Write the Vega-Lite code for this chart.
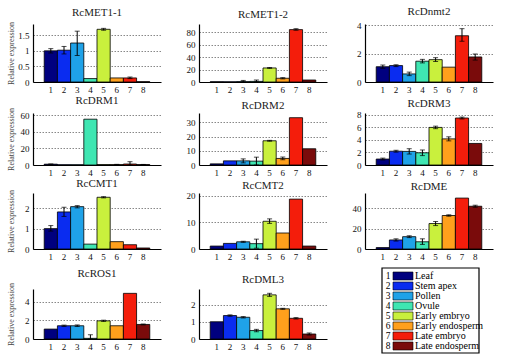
{
"$schema": "https://vega.github.io/schema/vega-lite/v6.json",
"padding": {"left": 6, "top": 6, "right": 2, "bottom": 2},
"background": "white",
"data": {"values": [
{"g":"RcMET1-1","t":1,"v":1.0,"lo":0.93,"hi":1.07},
{"g":"RcMET1-1","t":2,"v":1.02,"lo":0.9,"hi":1.14},
{"g":"RcMET1-1","t":3,"v":1.25,"lo":0.85,"hi":1.63},
{"g":"RcMET1-1","t":4,"v":0.11},
{"g":"RcMET1-1","t":5,"v":1.69,"lo":1.66,"hi":1.72},
{"g":"RcMET1-1","t":6,"v":0.13},
{"g":"RcMET1-1","t":7,"v":0.13,"lo":0.11,"hi":0.16},
{"g":"RcMET1-1","t":8,"v":0.01},
{"g":"RcMET1-2","t":1,"v":0.4},
{"g":"RcMET1-2","t":2,"v":0.3},
{"g":"RcMET1-2","t":3,"v":0.6,"lo":0,"hi":2.5},
{"g":"RcMET1-2","t":4,"v":1.0,"lo":0,"hi":3.2},
{"g":"RcMET1-2","t":5,"v":22.5,"lo":21.8,"hi":23.2},
{"g":"RcMET1-2","t":6,"v":6,"lo":5,"hi":7},
{"g":"RcMET1-2","t":7,"v":84,"lo":83,"hi":85.5},
{"g":"RcMET1-2","t":8,"v":3.2},
{"g":"RcDnmt2","t":1,"v":1.08,"lo":0.97,"hi":1.2},
{"g":"RcDnmt2","t":2,"v":1.16,"lo":1.09,"hi":1.22},
{"g":"RcDnmt2","t":3,"v":0.57,"lo":0.45,"hi":0.7},
{"g":"RcDnmt2","t":4,"v":1.47,"lo":1.35,"hi":1.6},
{"g":"RcDnmt2","t":5,"v":1.58,"lo":1.45,"hi":1.72},
{"g":"RcDnmt2","t":6,"v":1.05},
{"g":"RcDnmt2","t":7,"v":3.27,"lo":2.88,"hi":3.77},
{"g":"RcDnmt2","t":8,"v":1.77,"lo":1.55,"hi":1.98},
{"g":"RcDRM1","t":1,"v":1.0,"lo":0.8,"hi":1.2},
{"g":"RcDRM1","t":2,"v":0.3},
{"g":"RcDRM1","t":3,"v":0.3},
{"g":"RcDRM1","t":4,"v":55.5},
{"g":"RcDRM1","t":5,"v":0.5},
{"g":"RcDRM1","t":6,"v":0.5,"lo":0.3,"hi":0.8},
{"g":"RcDRM1","t":7,"v":1.2,"lo":0,"hi":4},
{"g":"RcDRM1","t":8,"v":0.5,"lo":0.3,"hi":0.7},
{"g":"RcDRM2","t":1,"v":0.8},
{"g":"RcDRM2","t":2,"v":2.9},
{"g":"RcDRM2","t":3,"v":2.9,"lo":1.5,"hi":4.3},
{"g":"RcDRM2","t":4,"v":2.7,"lo":0,"hi":5.5},
{"g":"RcDRM2","t":5,"v":17,"lo":16.7,"hi":17.3},
{"g":"RcDRM2","t":6,"v":4.6,"lo":3.7,"hi":5.6},
{"g":"RcDRM2","t":7,"v":33.2},
{"g":"RcDRM2","t":8,"v":11.4},
{"g":"RcDRM3","t":1,"v":0.95,"lo":0.8,"hi":1.1},
{"g":"RcDRM3","t":2,"v":2.2,"lo":2.05,"hi":2.35},
{"g":"RcDRM3","t":3,"v":2.17,"lo":1.75,"hi":2.6},
{"g":"RcDRM3","t":4,"v":1.95,"lo":1.5,"hi":2.4},
{"g":"RcDRM3","t":5,"v":6.0,"lo":5.8,"hi":6.2},
{"g":"RcDRM3","t":6,"v":4.17,"lo":3.85,"hi":4.5},
{"g":"RcDRM3","t":7,"v":7.5,"lo":7.35,"hi":7.65},
{"g":"RcDRM3","t":8,"v":3.44},
{"g":"RcCMT1","t":1,"v":1.0,"lo":0.88,"hi":1.15},
{"g":"RcCMT1","t":2,"v":1.82,"lo":1.6,"hi":2.05},
{"g":"RcCMT1","t":3,"v":2.08,"lo":2.02,"hi":2.13},
{"g":"RcCMT1","t":4,"v":0.24},
{"g":"RcCMT1","t":5,"v":2.54,"lo":2.51,"hi":2.57},
{"g":"RcCMT1","t":6,"v":0.36},
{"g":"RcCMT1","t":7,"v":0.21},
{"g":"RcCMT1","t":8,"v":0.05},
{"g":"RcCMT2","t":1,"v":1.1},
{"g":"RcCMT2","t":2,"v":2.1},
{"g":"RcCMT2","t":3,"v":2.7,"lo":2.5,"hi":2.9},
{"g":"RcCMT2","t":4,"v":2.0,"lo":0.3,"hi":3.7},
{"g":"RcCMT2","t":5,"v":10.4,"lo":9.6,"hi":11.3},
{"g":"RcCMT2","t":6,"v":6.0},
{"g":"RcCMT2","t":7,"v":18.7},
{"g":"RcCMT2","t":8,"v":1.1},
{"g":"RcDME","t":1,"v":1.4},
{"g":"RcDME","t":2,"v":8.9,"lo":7.8,"hi":10},
{"g":"RcDME","t":3,"v":12.1,"lo":11.2,"hi":13},
{"g":"RcDME","t":4,"v":7.1,"lo":4.5,"hi":10},
{"g":"RcDME","t":5,"v":25,"lo":23,"hi":27},
{"g":"RcDME","t":6,"v":32.9,"lo":32.2,"hi":33.6},
{"g":"RcDME","t":7,"v":50},
{"g":"RcDME","t":8,"v":42,"lo":41,"hi":43},
{"g":"RcROS1","t":1,"v":1.07},
{"g":"RcROS1","t":2,"v":1.43,"lo":1.36,"hi":1.5},
{"g":"RcROS1","t":3,"v":1.43,"lo":1.35,"hi":1.52},
{"g":"RcROS1","t":4,"v":0.07,"lo":0,"hi":0.46},
{"g":"RcROS1","t":5,"v":1.96,"lo":1.9,"hi":2.03},
{"g":"RcROS1","t":6,"v":1.43},
{"g":"RcROS1","t":7,"v":4.93},
{"g":"RcROS1","t":8,"v":1.57,"lo":1.52,"hi":1.62},
{"g":"RcDML3","t":1,"v":1.0},
{"g":"RcDML3","t":2,"v":1.36,"lo":1.32,"hi":1.4},
{"g":"RcDML3","t":3,"v":1.26,"lo":1.22,"hi":1.3},
{"g":"RcDML3","t":4,"v":0.49,"lo":0.42,"hi":0.56},
{"g":"RcDML3","t":5,"v":2.56,"lo":2.47,"hi":2.65},
{"g":"RcDML3","t":6,"v":1.75,"lo":1.72,"hi":1.78},
{"g":"RcDML3","t":7,"v":1.2,"lo":1.16,"hi":1.24},
{"g":"RcDML3","t":8,"v":0.29,"lo":0.23,"hi":0.35}
]},
"columns": 3,
"align": "each",
"spacing": {"row": 0, "column": 22},
"resolve": {"scale": {"x": "independent", "y": "independent"}},
"concat": [
{"title": {"text": "RcMET1-1", "offset": 4}, "width": 128, "height": 58,
 "transform": [{"filter": "datum.g === 'RcMET1-1'"}],
 "encoding": {"x": {"field": "t", "type": "ordinal", "scale": {"paddingInner": 0, "paddingOuter": 0.85}, "axis": {"title": null}}},
 "layer": [
  {"mark": "bar", "encoding": {"y": {"field": "v", "type": "quantitative", "title": "Relative expression", "scale": {"domain": [0, 1.86], "nice": false, "zero": false}, "axis": {"values": [0, 0.5, 1, 1.5], "labelExpr": "'' + datum.value"}}, "color": {"field": "t", "type": "ordinal", "scale": {"domain": [1,2,3,4,5,6,7,8], "range": ["#00007f","#0a2cf0","#1fa2e8","#3fe6b2","#c9f03d","#ffa01c","#f41d0b","#7a0b0b"]}, "legend": null}}},
  {"mark": {"type": "rule", "color": "#000"}, "encoding": {"y": {"field": "lo", "type": "quantitative", "title": "Relative expression", "scale": {"domain": [0, 1.86], "nice": false, "zero": false}, "axis": {"values": [0, 0.5, 1, 1.5], "labelExpr": "'' + datum.value"}}, "y2": {"field": "hi"}}},
  {"mark": {"type": "tick", "color": "#000", "size": 5, "thickness": 1}, "encoding": {"y": {"field": "hi", "type": "quantitative", "title": "Relative expression", "scale": {"domain": [0, 1.86], "nice": false, "zero": false}, "axis": {"values": [0, 0.5, 1, 1.5], "labelExpr": "'' + datum.value"}}}},
  {"mark": {"type": "tick", "color": "#000", "size": 5, "thickness": 1}, "encoding": {"y": {"field": "lo", "type": "quantitative", "title": "Relative expression", "scale": {"domain": [0, 1.86], "nice": false, "zero": false}, "axis": {"values": [0, 0.5, 1, 1.5], "labelExpr": "'' + datum.value"}}}}
 ]},
{"title": {"text": "RcMET1-2", "offset": 4}, "width": 128, "height": 58,
 "transform": [{"filter": "datum.g === 'RcMET1-2'"}],
 "encoding": {"x": {"field": "t", "type": "ordinal", "scale": {"paddingInner": 0, "paddingOuter": 0.85}, "axis": {"title": null}}},
 "layer": [
  {"mark": "bar", "encoding": {"y": {"field": "v", "type": "quantitative", "title": null, "scale": {"domain": [0, 93], "nice": false, "zero": false}, "axis": {"values": [0, 20, 40, 60, 80], "labelExpr": "'' + datum.value"}}, "color": {"field": "t", "type": "ordinal", "scale": {"domain": [1,2,3,4,5,6,7,8], "range": ["#00007f","#0a2cf0","#1fa2e8","#3fe6b2","#c9f03d","#ffa01c","#f41d0b","#7a0b0b"]}, "legend": null}}},
  {"mark": {"type": "rule", "color": "#000"}, "encoding": {"y": {"field": "lo", "type": "quantitative", "title": null, "scale": {"domain": [0, 93], "nice": false, "zero": false}, "axis": {"values": [0, 20, 40, 60, 80], "labelExpr": "'' + datum.value"}}, "y2": {"field": "hi"}}},
  {"mark": {"type": "tick", "color": "#000", "size": 5, "thickness": 1}, "encoding": {"y": {"field": "hi", "type": "quantitative", "title": null, "scale": {"domain": [0, 93], "nice": false, "zero": false}, "axis": {"values": [0, 20, 40, 60, 80], "labelExpr": "'' + datum.value"}}}},
  {"mark": {"type": "tick", "color": "#000", "size": 5, "thickness": 1}, "encoding": {"y": {"field": "lo", "type": "quantitative", "title": null, "scale": {"domain": [0, 93], "nice": false, "zero": false}, "axis": {"values": [0, 20, 40, 60, 80], "labelExpr": "'' + datum.value"}}}}
 ]},
{"title": {"text": "RcDnmt2", "offset": 4}, "width": 128, "height": 58,
 "transform": [{"filter": "datum.g === 'RcDnmt2'"}],
 "encoding": {"x": {"field": "t", "type": "ordinal", "scale": {"paddingInner": 0, "paddingOuter": 0.85}, "axis": {"title": null}}},
 "layer": [
  {"mark": "bar", "encoding": {"y": {"field": "v", "type": "quantitative", "title": null, "scale": {"domain": [0, 4.1], "nice": false, "zero": false}, "axis": {"values": [0, 2, 4], "labelExpr": "'' + datum.value"}}, "color": {"field": "t", "type": "ordinal", "scale": {"domain": [1,2,3,4,5,6,7,8], "range": ["#00007f","#0a2cf0","#1fa2e8","#3fe6b2","#c9f03d","#ffa01c","#f41d0b","#7a0b0b"]}, "legend": null}}},
  {"mark": {"type": "rule", "color": "#000"}, "encoding": {"y": {"field": "lo", "type": "quantitative", "title": null, "scale": {"domain": [0, 4.1], "nice": false, "zero": false}, "axis": {"values": [0, 2, 4], "labelExpr": "'' + datum.value"}}, "y2": {"field": "hi"}}},
  {"mark": {"type": "tick", "color": "#000", "size": 5, "thickness": 1}, "encoding": {"y": {"field": "hi", "type": "quantitative", "title": null, "scale": {"domain": [0, 4.1], "nice": false, "zero": false}, "axis": {"values": [0, 2, 4], "labelExpr": "'' + datum.value"}}}},
  {"mark": {"type": "tick", "color": "#000", "size": 5, "thickness": 1}, "encoding": {"y": {"field": "lo", "type": "quantitative", "title": null, "scale": {"domain": [0, 4.1], "nice": false, "zero": false}, "axis": {"values": [0, 2, 4], "labelExpr": "'' + datum.value"}}}}
 ]},
{"title": {"text": "RcDRM1", "offset": 2}, "width": 128, "height": 52,
 "transform": [{"filter": "datum.g === 'RcDRM1'"}],
 "encoding": {"x": {"field": "t", "type": "ordinal", "scale": {"paddingInner": 0, "paddingOuter": 0.85}, "axis": {"title": null}}},
 "layer": [
  {"mark": "bar", "encoding": {"y": {"field": "v", "type": "quantitative", "title": "Relative expression", "scale": {"domain": [0, 63], "nice": false, "zero": false}, "axis": {"values": [0, 20, 40, 60], "labelExpr": "'' + datum.value"}}, "color": {"field": "t", "type": "ordinal", "scale": {"domain": [1,2,3,4,5,6,7,8], "range": ["#00007f","#0a2cf0","#1fa2e8","#3fe6b2","#c9f03d","#ffa01c","#f41d0b","#7a0b0b"]}, "legend": null}}},
  {"mark": {"type": "rule", "color": "#000"}, "encoding": {"y": {"field": "lo", "type": "quantitative", "title": "Relative expression", "scale": {"domain": [0, 63], "nice": false, "zero": false}, "axis": {"values": [0, 20, 40, 60], "labelExpr": "'' + datum.value"}}, "y2": {"field": "hi"}}},
  {"mark": {"type": "tick", "color": "#000", "size": 5, "thickness": 1}, "encoding": {"y": {"field": "hi", "type": "quantitative", "title": "Relative expression", "scale": {"domain": [0, 63], "nice": false, "zero": false}, "axis": {"values": [0, 20, 40, 60], "labelExpr": "'' + datum.value"}}}},
  {"mark": {"type": "tick", "color": "#000", "size": 5, "thickness": 1}, "encoding": {"y": {"field": "lo", "type": "quantitative", "title": "Relative expression", "scale": {"domain": [0, 63], "nice": false, "zero": false}, "axis": {"values": [0, 20, 40, 60], "labelExpr": "'' + datum.value"}}}}
 ]},
{"title": {"text": "RcDRM2", "offset": 2}, "width": 128, "height": 52,
 "transform": [{"filter": "datum.g === 'RcDRM2'"}],
 "encoding": {"x": {"field": "t", "type": "ordinal", "scale": {"paddingInner": 0, "paddingOuter": 0.85}, "axis": {"title": null}}},
 "layer": [
  {"mark": "bar", "encoding": {"y": {"field": "v", "type": "quantitative", "title": null, "scale": {"domain": [0, 36.5], "nice": false, "zero": false}, "axis": {"values": [0, 10, 20, 30], "labelExpr": "'' + datum.value"}}, "color": {"field": "t", "type": "ordinal", "scale": {"domain": [1,2,3,4,5,6,7,8], "range": ["#00007f","#0a2cf0","#1fa2e8","#3fe6b2","#c9f03d","#ffa01c","#f41d0b","#7a0b0b"]}, "legend": null}}},
  {"mark": {"type": "rule", "color": "#000"}, "encoding": {"y": {"field": "lo", "type": "quantitative", "title": null, "scale": {"domain": [0, 36.5], "nice": false, "zero": false}, "axis": {"values": [0, 10, 20, 30], "labelExpr": "'' + datum.value"}}, "y2": {"field": "hi"}}},
  {"mark": {"type": "tick", "color": "#000", "size": 5, "thickness": 1}, "encoding": {"y": {"field": "hi", "type": "quantitative", "title": null, "scale": {"domain": [0, 36.5], "nice": false, "zero": false}, "axis": {"values": [0, 10, 20, 30], "labelExpr": "'' + datum.value"}}}},
  {"mark": {"type": "tick", "color": "#000", "size": 5, "thickness": 1}, "encoding": {"y": {"field": "lo", "type": "quantitative", "title": null, "scale": {"domain": [0, 36.5], "nice": false, "zero": false}, "axis": {"values": [0, 10, 20, 30], "labelExpr": "'' + datum.value"}}}}
 ]},
{"title": {"text": "RcDRM3", "offset": 2}, "width": 128, "height": 52,
 "transform": [{"filter": "datum.g === 'RcDRM3'"}],
 "encoding": {"x": {"field": "t", "type": "ordinal", "scale": {"paddingInner": 0, "paddingOuter": 0.85}, "axis": {"title": null}}},
 "layer": [
  {"mark": "bar", "encoding": {"y": {"field": "v", "type": "quantitative", "title": null, "scale": {"domain": [0, 8.3], "nice": false, "zero": false}, "axis": {"values": [0, 2, 4, 6, 8], "labelExpr": "'' + datum.value"}}, "color": {"field": "t", "type": "ordinal", "scale": {"domain": [1,2,3,4,5,6,7,8], "range": ["#00007f","#0a2cf0","#1fa2e8","#3fe6b2","#c9f03d","#ffa01c","#f41d0b","#7a0b0b"]}, "legend": null}}},
  {"mark": {"type": "rule", "color": "#000"}, "encoding": {"y": {"field": "lo", "type": "quantitative", "title": null, "scale": {"domain": [0, 8.3], "nice": false, "zero": false}, "axis": {"values": [0, 2, 4, 6, 8], "labelExpr": "'' + datum.value"}}, "y2": {"field": "hi"}}},
  {"mark": {"type": "tick", "color": "#000", "size": 5, "thickness": 1}, "encoding": {"y": {"field": "hi", "type": "quantitative", "title": null, "scale": {"domain": [0, 8.3], "nice": false, "zero": false}, "axis": {"values": [0, 2, 4, 6, 8], "labelExpr": "'' + datum.value"}}}},
  {"mark": {"type": "tick", "color": "#000", "size": 5, "thickness": 1}, "encoding": {"y": {"field": "lo", "type": "quantitative", "title": null, "scale": {"domain": [0, 8.3], "nice": false, "zero": false}, "axis": {"values": [0, 2, 4, 6, 8], "labelExpr": "'' + datum.value"}}}}
 ]},
{"title": {"text": "RcCMT1", "offset": 1}, "width": 128, "height": 56,
 "transform": [{"filter": "datum.g === 'RcCMT1'"}],
 "encoding": {"x": {"field": "t", "type": "ordinal", "scale": {"paddingInner": 0, "paddingOuter": 0.85}, "axis": {"title": " ", "titleFontSize": 6, "titlePadding": 0}}},
 "layer": [
  {"mark": "bar", "encoding": {"y": {"field": "v", "type": "quantitative", "title": "Relative expression", "scale": {"domain": [0, 2.75], "nice": false, "zero": false}, "axis": {"values": [0, 1, 2], "labelExpr": "'' + datum.value"}}, "color": {"field": "t", "type": "ordinal", "scale": {"domain": [1,2,3,4,5,6,7,8], "range": ["#00007f","#0a2cf0","#1fa2e8","#3fe6b2","#c9f03d","#ffa01c","#f41d0b","#7a0b0b"]}, "legend": null}}},
  {"mark": {"type": "rule", "color": "#000"}, "encoding": {"y": {"field": "lo", "type": "quantitative", "title": "Relative expression", "scale": {"domain": [0, 2.75], "nice": false, "zero": false}, "axis": {"values": [0, 1, 2], "labelExpr": "'' + datum.value"}}, "y2": {"field": "hi"}}},
  {"mark": {"type": "tick", "color": "#000", "size": 5, "thickness": 1}, "encoding": {"y": {"field": "hi", "type": "quantitative", "title": "Relative expression", "scale": {"domain": [0, 2.75], "nice": false, "zero": false}, "axis": {"values": [0, 1, 2], "labelExpr": "'' + datum.value"}}}},
  {"mark": {"type": "tick", "color": "#000", "size": 5, "thickness": 1}, "encoding": {"y": {"field": "lo", "type": "quantitative", "title": "Relative expression", "scale": {"domain": [0, 2.75], "nice": false, "zero": false}, "axis": {"values": [0, 1, 2], "labelExpr": "'' + datum.value"}}}}
 ]},
{"title": {"text": "RcCMT2", "offset": 1}, "width": 128, "height": 56,
 "transform": [{"filter": "datum.g === 'RcCMT2'"}],
 "encoding": {"x": {"field": "t", "type": "ordinal", "scale": {"paddingInner": 0, "paddingOuter": 0.85}, "axis": {"title": " ", "titleFontSize": 6, "titlePadding": 0}}},
 "layer": [
  {"mark": "bar", "encoding": {"y": {"field": "v", "type": "quantitative", "title": null, "scale": {"domain": [0, 21], "nice": false, "zero": false}, "axis": {"values": [0, 10, 20], "labelExpr": "'' + datum.value"}}, "color": {"field": "t", "type": "ordinal", "scale": {"domain": [1,2,3,4,5,6,7,8], "range": ["#00007f","#0a2cf0","#1fa2e8","#3fe6b2","#c9f03d","#ffa01c","#f41d0b","#7a0b0b"]}, "legend": null}}},
  {"mark": {"type": "rule", "color": "#000"}, "encoding": {"y": {"field": "lo", "type": "quantitative", "title": null, "scale": {"domain": [0, 21], "nice": false, "zero": false}, "axis": {"values": [0, 10, 20], "labelExpr": "'' + datum.value"}}, "y2": {"field": "hi"}}},
  {"mark": {"type": "tick", "color": "#000", "size": 5, "thickness": 1}, "encoding": {"y": {"field": "hi", "type": "quantitative", "title": null, "scale": {"domain": [0, 21], "nice": false, "zero": false}, "axis": {"values": [0, 10, 20], "labelExpr": "'' + datum.value"}}}},
  {"mark": {"type": "tick", "color": "#000", "size": 5, "thickness": 1}, "encoding": {"y": {"field": "lo", "type": "quantitative", "title": null, "scale": {"domain": [0, 21], "nice": false, "zero": false}, "axis": {"values": [0, 10, 20], "labelExpr": "'' + datum.value"}}}}
 ]},
{"title": {"text": "RcDME", "offset": 1}, "width": 128, "height": 56,
 "transform": [{"filter": "datum.g === 'RcDME'"}],
 "encoding": {"x": {"field": "t", "type": "ordinal", "scale": {"paddingInner": 0, "paddingOuter": 0.85}, "axis": {"title": " ", "titleFontSize": 6, "titlePadding": 0}}},
 "layer": [
  {"mark": "bar", "encoding": {"y": {"field": "v", "type": "quantitative", "title": null, "scale": {"domain": [0, 55], "nice": false, "zero": false}, "axis": {"values": [0, 20, 40], "labelExpr": "'' + datum.value"}}, "color": {"field": "t", "type": "ordinal", "scale": {"domain": [1,2,3,4,5,6,7,8], "range": ["#00007f","#0a2cf0","#1fa2e8","#3fe6b2","#c9f03d","#ffa01c","#f41d0b","#7a0b0b"]}, "legend": null}}},
  {"mark": {"type": "rule", "color": "#000"}, "encoding": {"y": {"field": "lo", "type": "quantitative", "title": null, "scale": {"domain": [0, 55], "nice": false, "zero": false}, "axis": {"values": [0, 20, 40], "labelExpr": "'' + datum.value"}}, "y2": {"field": "hi"}}},
  {"mark": {"type": "tick", "color": "#000", "size": 5, "thickness": 1}, "encoding": {"y": {"field": "hi", "type": "quantitative", "title": null, "scale": {"domain": [0, 55], "nice": false, "zero": false}, "axis": {"values": [0, 20, 40], "labelExpr": "'' + datum.value"}}}},
  {"mark": {"type": "tick", "color": "#000", "size": 5, "thickness": 1}, "encoding": {"y": {"field": "lo", "type": "quantitative", "title": null, "scale": {"domain": [0, 55], "nice": false, "zero": false}, "axis": {"values": [0, 20, 40], "labelExpr": "'' + datum.value"}}}}
 ]},
{"title": {"text": "RcROS1", "offset": 4}, "width": 128, "height": 50,
 "transform": [{"filter": "datum.g === 'RcROS1'"}],
 "encoding": {"x": {"field": "t", "type": "ordinal", "scale": {"paddingInner": 0, "paddingOuter": 0.85}, "axis": {"title": null}}},
 "layer": [
  {"mark": "bar", "encoding": {"y": {"field": "v", "type": "quantitative", "title": "Relative expression", "scale": {"domain": [0, 5.4], "nice": false, "zero": false}, "axis": {"values": [0, 2, 4], "labelExpr": "'' + datum.value"}}, "color": {"field": "t", "type": "ordinal", "scale": {"domain": [1,2,3,4,5,6,7,8], "range": ["#00007f","#0a2cf0","#1fa2e8","#3fe6b2","#c9f03d","#ffa01c","#f41d0b","#7a0b0b"]}, "legend": null}}},
  {"mark": {"type": "rule", "color": "#000"}, "encoding": {"y": {"field": "lo", "type": "quantitative", "title": "Relative expression", "scale": {"domain": [0, 5.4], "nice": false, "zero": false}, "axis": {"values": [0, 2, 4], "labelExpr": "'' + datum.value"}}, "y2": {"field": "hi"}}},
  {"mark": {"type": "tick", "color": "#000", "size": 5, "thickness": 1}, "encoding": {"y": {"field": "hi", "type": "quantitative", "title": "Relative expression", "scale": {"domain": [0, 5.4], "nice": false, "zero": false}, "axis": {"values": [0, 2, 4], "labelExpr": "'' + datum.value"}}}},
  {"mark": {"type": "tick", "color": "#000", "size": 5, "thickness": 1}, "encoding": {"y": {"field": "lo", "type": "quantitative", "title": "Relative expression", "scale": {"domain": [0, 5.4], "nice": false, "zero": false}, "axis": {"values": [0, 2, 4], "labelExpr": "'' + datum.value"}}}}
 ]},
{"title": {"text": "RcDML3", "offset": 4}, "width": 128, "height": 50,
 "transform": [{"filter": "datum.g === 'RcDML3'"}],
 "encoding": {"x": {"field": "t", "type": "ordinal", "scale": {"paddingInner": 0, "paddingOuter": 0.85}, "axis": {"title": null}}},
 "layer": [
  {"mark": "bar", "encoding": {"y": {"field": "v", "type": "quantitative", "title": null, "scale": {"domain": [0, 2.9], "nice": false, "zero": false}, "axis": {"values": [0, 1, 2], "labelExpr": "'' + datum.value"}}, "color": {"field": "t", "type": "ordinal", "scale": {"domain": [1,2,3,4,5,6,7,8], "range": ["#00007f","#0a2cf0","#1fa2e8","#3fe6b2","#c9f03d","#ffa01c","#f41d0b","#7a0b0b"]}, "legend": null}}},
  {"mark": {"type": "rule", "color": "#000"}, "encoding": {"y": {"field": "lo", "type": "quantitative", "title": null, "scale": {"domain": [0, 2.9], "nice": false, "zero": false}, "axis": {"values": [0, 1, 2], "labelExpr": "'' + datum.value"}}, "y2": {"field": "hi"}}},
  {"mark": {"type": "tick", "color": "#000", "size": 5, "thickness": 1}, "encoding": {"y": {"field": "hi", "type": "quantitative", "title": null, "scale": {"domain": [0, 2.9], "nice": false, "zero": false}, "axis": {"values": [0, 1, 2], "labelExpr": "'' + datum.value"}}}},
  {"mark": {"type": "tick", "color": "#000", "size": 5, "thickness": 1}, "encoding": {"y": {"field": "lo", "type": "quantitative", "title": null, "scale": {"domain": [0, 2.9], "nice": false, "zero": false}, "axis": {"values": [0, 1, 2], "labelExpr": "'' + datum.value"}}}}
 ]},
{"width": 128, "height": 50,
 "data": {"values": [
  {"t":1,"name":"Leaf"},{"t":2,"name":"Stem apex"},{"t":3,"name":"Pollen"},{"t":4,"name":"Ovule"},
  {"t":5,"name":"Early embryo"},{"t":6,"name":"Early endosperm"},{"t":7,"name":"Late embryo"},{"t":8,"name":"Late endosperm"}]},
 "layer": [
  {"data": {"values": [{"box": 1}]}, "mark": {"type": "rect", "fill": "white", "fillOpacity": 0, "stroke": "#000", "strokeWidth": 1.2},
   "encoding": {"x": {"datum": 1.7, "type": "quantitative", "scale": {"domain": [0, 12.8], "nice": false, "zero": false, "padding": 0}, "axis": null}, "x2": {"datum": 11.4},
                "y": {"datum": 0.2, "type": "quantitative", "scale": {"domain": [2.3, 7.3], "nice": false, "zero": false, "reverse": true, "padding": 0}, "axis": null}, "y2": {"datum": 8.7}}},
  {"mark": {"type": "text", "align": "center", "baseline": "middle", "fontSize": 9.5, "font": "Liberation Serif", "color": "#000"},
   "encoding": {"x": {"datum": 2.3, "type": "quantitative", "scale": {"domain": [0, 12.8], "nice": false, "zero": false, "padding": 0}, "axis": null},
                "y": {"field": "t", "type": "quantitative", "scale": {"domain": [2.3, 7.3], "nice": false, "zero": false, "reverse": true, "padding": 0}, "axis": null}, "text": {"field": "t"}}},
  {"mark": {"type": "bar", "height": 8, "stroke": "#000", "strokeWidth": 0.6, "orient": "horizontal"},
   "encoding": {"x": {"datum": 2.8, "type": "quantitative", "scale": {"domain": [0, 12.8], "nice": false, "zero": false, "padding": 0}, "axis": null}, "x2": {"datum": 4.8},
                "y": {"field": "t", "type": "quantitative", "scale": {"domain": [2.3, 7.3], "nice": false, "zero": false, "reverse": true, "padding": 0}, "axis": null},
                "color": {"field": "t", "type": "ordinal", "scale": {"domain": [1,2,3,4,5,6,7,8], "range": ["#00007f","#0a2cf0","#1fa2e8","#3fe6b2","#c9f03d","#ffa01c","#f41d0b","#7a0b0b"]}, "legend": null}}},
  {"mark": {"type": "text", "align": "left", "baseline": "middle", "fontSize": 10, "font": "Liberation Serif", "color": "#000"},
   "encoding": {"x": {"datum": 5.0, "type": "quantitative", "scale": {"domain": [0, 12.8], "nice": false, "zero": false, "padding": 0}, "axis": null},
                "y": {"field": "t", "type": "quantitative", "scale": {"domain": [2.3, 7.3], "nice": false, "zero": false, "reverse": true, "padding": 0}, "axis": null}, "text": {"field": "name"}}}
 ]}
],
"config": {
 "font": "Liberation Serif",
 "view": {"stroke": null},
 "title": {"fontSize": 11, "fontWeight": "normal", "font": "Liberation Serif", "color": "#222"},
 "axis": {"labelFont": "Liberation Serif", "labelFontSize": 9, "labelColor": "#111", "domainColor": "#000", "domainWidth": 1.2, "tickColor": "#000", "titleFont": "Liberation Serif"},
 "axisX": {"labelAngle": 0, "ticks": false, "grid": false, "labelPadding": 3},
 "axisY": {"grid": true, "gridDash": [1.5, 1.5], "gridColor": "#888", "tickSize": 0, "labelPadding": 4, "minExtent": 16, "maxExtent": 16, "titleFontSize": 8, "titleFontWeight": "normal", "titleColor": "#444", "titlePadding": 2},
 "bar": {"stroke": "#000", "strokeWidth": 0.8}
}
}
